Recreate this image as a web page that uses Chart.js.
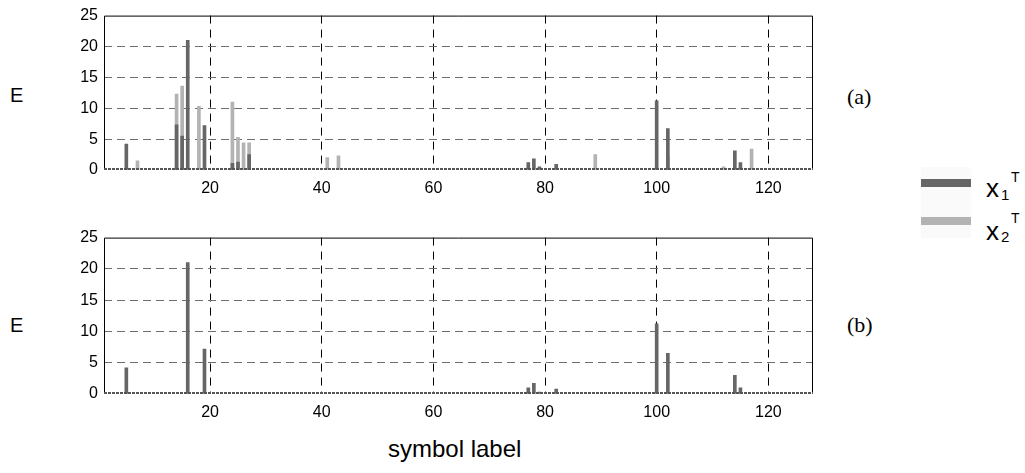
<!DOCTYPE html>
<html>
<head>
<meta charset="utf-8">
<script src="https://cdn.jsdelivr.net/npm/chart.js@4/dist/chart.umd.min.js"></script>
<style>
  body { margin:0; background:#fff; }
  #wrap { position:relative; width:1025px; height:473px; overflow:hidden; font-family:"Liberation Sans", Arial, sans-serif; color:#000; }
  #wrap canvas { position:absolute; }
  .t { position:absolute; line-height:1; white-space:nowrap; }
  .serif { font-family:"Liberation Serif", "Times New Roman", serif; }
  .key { position:absolute; left:921px; width:50px; height:8px; }
</style>
</head>
<body>
<div id="wrap">
  <canvas id="top" width="790" height="195" style="left:40px;top:0"></canvas>
  <canvas id="bottom" width="790" height="197" style="left:40px;top:222px"></canvas>

  <div class="t" style="left:10px;top:85px;font-size:20px">E</div>
  <div class="t" style="left:10px;top:315px;font-size:20px">E</div>
  <div class="t serif" style="left:847px;top:86px;font-size:22px">(a)</div>
  <div class="t serif" style="left:847px;top:314px;font-size:22px">(b)</div>
  <div class="t" style="left:388px;top:437px;font-size:24px">symbol label</div>

  <div style="position:absolute;left:921px;top:167px;width:50px;height:71px;background:#fafafa"></div>
  <div class="key" style="top:179px;background:#666"></div>
  <div class="key" style="top:217px;background:#b3b3b3"></div>
  <div class="t" style="left:986px;top:175px;font-size:26px">x</div>
  <div class="t" style="left:1001px;top:187px;font-size:15px">1</div>
  <div class="t" style="left:1011px;top:170px;font-size:14px">T</div>
  <div class="t" style="left:986px;top:218px;font-size:26px">x</div>
  <div class="t" style="left:1001px;top:229px;font-size:15px">2</div>
  <div class="t" style="left:1011px;top:211px;font-size:14px">T</div>
</div>
<script>
// symbol positions and energies, panel (a)
const topX1Labels = [5, 14, 15, 16, 19, 24, 25, 27, 77, 78, 79, 82, 100, 102, 114, 115];
const topX1Values = [4.2, 7.3, 5.5, 21.0, 7.2, 1.1, 1.3, 2.5, 1.2, 1.8, 0.5, 0.9, 11.2, 6.7, 3.1, 1.2];
const topX2Labels = [7, 14, 15, 18, 24, 25, 26, 27, 41, 43, 89, 102, 112, 117];
const topX2Values = [1.5, 12.3, 13.6, 10.3, 11.0, 5.3, 4.4, 4.4, 2.0, 2.3, 2.5, 2.3, 0.5, 3.4];

// panel (b)
const botX1Labels = [5, 16, 19, 77, 78, 79, 82, 100, 102, 114, 115];
const botX1Values = [4.2, 21.0, 7.2, 1.0, 1.7, 0.3, 0.8, 11.2, 6.5, 3.0, 1.0];

const xTicks = [20, 40, 60, 80, 100, 120];
const yTicks = [0, 5, 10, 15, 20, 25];

const DARK = '#666666';
const LIGHT = '#b3b3b3';
const tickFont = { family: '"Liberation Sans", Arial, sans-serif', size: 16 };

const pts = (xs, ys) => xs.map((x, i) => ({ x, y: ys[i] }));

// box around the plot area, with the dotted zero line
const frame = {
  id: 'frame',
  afterDatasetsDraw(chart){
    const { ctx, chartArea: a } = chart;
    ctx.save();
    ctx.strokeStyle = '#000';
    ctx.lineWidth = 1;
    ctx.beginPath();
    ctx.moveTo(a.left + 0.5, a.bottom);
    ctx.lineTo(a.left + 0.5, a.top + 0.5);
    ctx.lineTo(a.right - 0.5, a.top + 0.5);
    ctx.lineTo(a.right - 0.5, a.bottom);
    ctx.stroke();
    ctx.strokeStyle = '#555';
    ctx.lineWidth = 2;
    ctx.setLineDash([3, 1]);
    ctx.beginPath();
    ctx.moveTo(a.left, a.bottom - 1);
    ctx.lineTo(a.right, a.bottom - 1);
    ctx.stroke();
    ctx.restore();
  }
};

// no dashed grid on the first/last y tick, the frame covers those
const yGridColor = c => {
  const v = c.tick && c.tick.value;
  return (v === yTicks[0] || v === yTicks[yTicks.length - 1]) ? 'rgba(0,0,0,0)' : '#6e6e6e';
};

function makePanel(id, datasets){
  return new Chart(document.getElementById(id), {
    type: 'bar',
    data: { datasets },
    plugins: [frame],
    options: {
      responsive: false,
      animation: false,
      layout: { padding: { top: 10, right: 17, left: 0, bottom: 0 } },
      plugins: { legend: { display: false }, tooltip: { enabled: false } },
      datasets: { bar: { grouped: false, barThickness: 3, borderWidth: 0 } },
      scales: {
        x: {
          type: 'linear', min: 1, max: 128, offset: false,
          afterBuildTicks: s => { s.ticks = xTicks.map(v => ({ value: v })); },
          afterFit: s => { s.height = 25; },
          ticks: { color: '#000', font: tickFont, padding: 9, maxRotation: 0 },
          grid: { color: '#000', lineWidth: 1, drawTicks: false, offset: false },
          border: { display: false, dash: [8, 6] }
        },
        y: {
          min: 0, max: 25,
          afterBuildTicks: s => { s.ticks = yTicks.map(v => ({ value: v })); },
          afterFit: s => { s.width = 64; },
          ticks: { color: '#000', font: tickFont, padding: 6 },
          grid: { color: yGridColor, lineWidth: 1, drawTicks: false },
          border: { display: false, dash: [8, 5] }
        }
      }
    }
  });
}

makePanel('top', [
  { label: 'x1', data: pts(topX1Labels, topX1Values), backgroundColor: DARK },
  { label: 'x2', data: pts(topX2Labels, topX2Values), backgroundColor: LIGHT }
]);
makePanel('bottom', [
  { label: 'x1', data: pts(botX1Labels, botX1Values), backgroundColor: DARK }
]);
</script>
</body>
</html>
